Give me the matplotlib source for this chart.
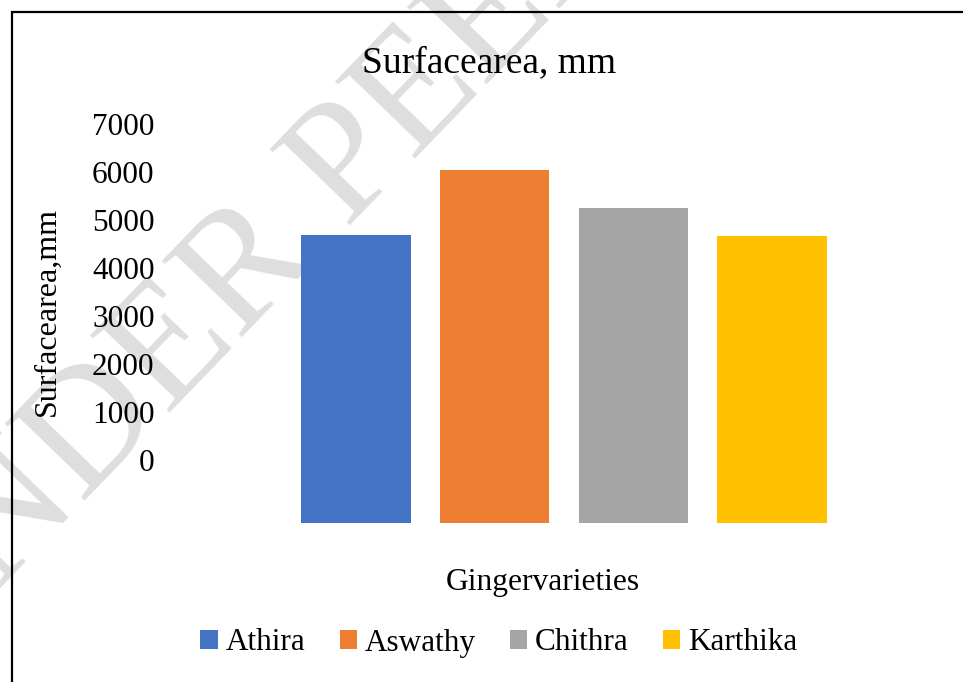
import numpy as np
import matplotlib.pyplot as plt
from matplotlib.patches import Rectangle

# values
varieties = ['Athira', 'Aswathy', 'Chithra', 'Karthika']
surface_area = [4690, 6040, 5250, 4670]
colors = ['#4472C4', '#ED7D31', '#A5A5A5', '#FFC000']
yticks = [0, 1000, 2000, 3000, 4000, 5000, 6000, 7000]

plt.rcParams['font.family'] = ['Liberation Serif', 'DejaVu Serif']

W, H = 963, 682
fig = plt.figure(figsize=(W / 100, H / 100), dpi=100)

# watermark across the page (behind everything)
fig.text(-88 / W, 1 - 680 / H, 'UNDER PEER REVIEW', rotation=46,
         rotation_mode='anchor', ha='left', va='baseline',
         fontsize=122, color='#dedede', zorder=-1)

# chart frame (only left and top edges visible in the crop)
fig.add_artist(Rectangle((12 / W, -0.1), 1.2, 1 - 12 / H + 0.1,
                         transform=fig.transFigure, fill=False,
                         ec='black', lw=1.6, zorder=5))

ax = fig.add_axes([286.5 / W, 159.3 / H, 555 / W, 398.7 / H])
ax.patch.set_alpha(0)

ymin = -1300
x = np.arange(len(varieties))
heights = [v - ymin for v in surface_area]
bars = ax.bar(x, heights, bottom=ymin, width=0.79, color=colors, zorder=2)

ax.set_xlim(-0.5, len(varieties) - 0.5)
ax.set_ylim(ymin, 7000)
ax.set_yticks(yticks)
ax.set_yticklabels([str(t) for t in yticks], fontsize=22.5)
ax.set_xticks([])
ax.tick_params(axis='y', length=0, pad=95)
for s in ax.spines.values():
    s.set_visible(False)

fig.text(489 / W, 1 - 72 / H, 'Surfacearea, mm', ha='center', va='baseline',
         fontsize=27)
fig.text(47 / W, 1 - 311 / H, 'Surfacearea,mm', rotation=90, ha='center',
         va='center', fontsize=23)
fig.text(543 / W, 1 - 590 / H, 'Gingervarieties', ha='center',
         va='baseline', fontsize=22.7)

fig.legend(bars, varieties, loc='center', ncol=4, frameon=False,
           bbox_to_anchor=(499 / W, 1 - 643 / H), fontsize=22.5,
           handlelength=0.55, handleheight=0.55, handletextpad=0.26,
           columnspacing=1.09, borderpad=0, borderaxespad=0)

fig.savefig('out.png', dpi=100)
